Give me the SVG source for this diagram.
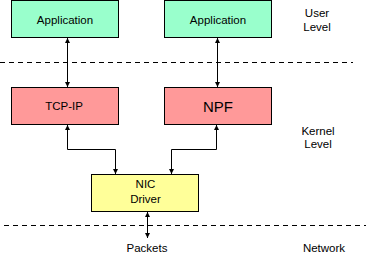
<svg xmlns="http://www.w3.org/2000/svg" width="370" height="258" viewBox="0 0 370 258">
<style>
.box{stroke:#000;stroke-width:1}
.app{fill:#99ffcc}
.kern{fill:#ff9999}
.nic{fill:#ffff99}
text{font-family:"Liberation Sans",Arial,sans-serif;font-size:11.5px;fill:#000;text-anchor:middle}
.big{font-size:15px}
.line{stroke:#000;stroke-width:1;fill:none}
.dash{stroke:#000;stroke-width:1;stroke-dasharray:5 4;fill:none}
</style>
<defs>
<marker id="ah" markerWidth="6" markerHeight="6" refX="5" refY="2.5" orient="auto-start-reverse" markerUnits="userSpaceOnUse">
<path d="M0,0 L5,2.5 L0,5 Z" fill="#000"/>
</marker>
</defs>
<g id="separators">
<line class="dash" x1="0" y1="62.5" x2="353" y2="62.5"/>
<line class="dash" x1="4" y1="225.5" x2="366" y2="225.5"/>
</g>
<g id="connectors">
<line class="line" x1="67.5" y1="38" x2="67.5" y2="87" marker-start="url(#ah)" marker-end="url(#ah)"/>
<line class="line" x1="217.5" y1="38" x2="217.5" y2="87" marker-start="url(#ah)" marker-end="url(#ah)"/>
<polyline class="line" points="67.5,125 67.5,149.5 115.5,149.5 115.5,174" marker-start="url(#ah)" marker-end="url(#ah)"/>
<polyline class="line" points="216.5,125 216.5,149.5 171.5,149.5 171.5,174" marker-start="url(#ah)" marker-end="url(#ah)"/>
<line class="line" x1="147.5" y1="212" x2="147.5" y2="238" marker-start="url(#ah)" marker-end="url(#ah)"/>
</g>
<g id="app1">
<rect class="box app" x="11.5" y="0.5" width="107" height="37"/>
<text x="65" y="24">Application</text>
</g>
<g id="app2">
<rect class="box app" x="164.5" y="0.5" width="107" height="37"/>
<text x="218" y="24">Application</text>
</g>
<g id="tcpip">
<rect class="box kern" x="11.5" y="87.5" width="107" height="37"/>
<text x="64" y="110">TCP-IP</text>
</g>
<g id="npf">
<rect class="box kern" x="164.5" y="87.5" width="107" height="37"/>
<text class="big" x="218" y="112">NPF</text>
</g>
<g id="nic">
<rect class="box nic" x="91.5" y="174.5" width="107" height="37"/>
<text x="145.5" y="188">NIC</text>
<text x="145.5" y="203">Driver</text>
</g>
<g id="packets">
<text x="147" y="252">Packets</text>
</g>
<g id="labels">
<text x="317" y="17">User</text>
<text x="317" y="31">Level</text>
<text x="318" y="135">Kernel</text>
<text x="318" y="148">Level</text>
<text x="324" y="252">Network</text>
</g>
</svg>
